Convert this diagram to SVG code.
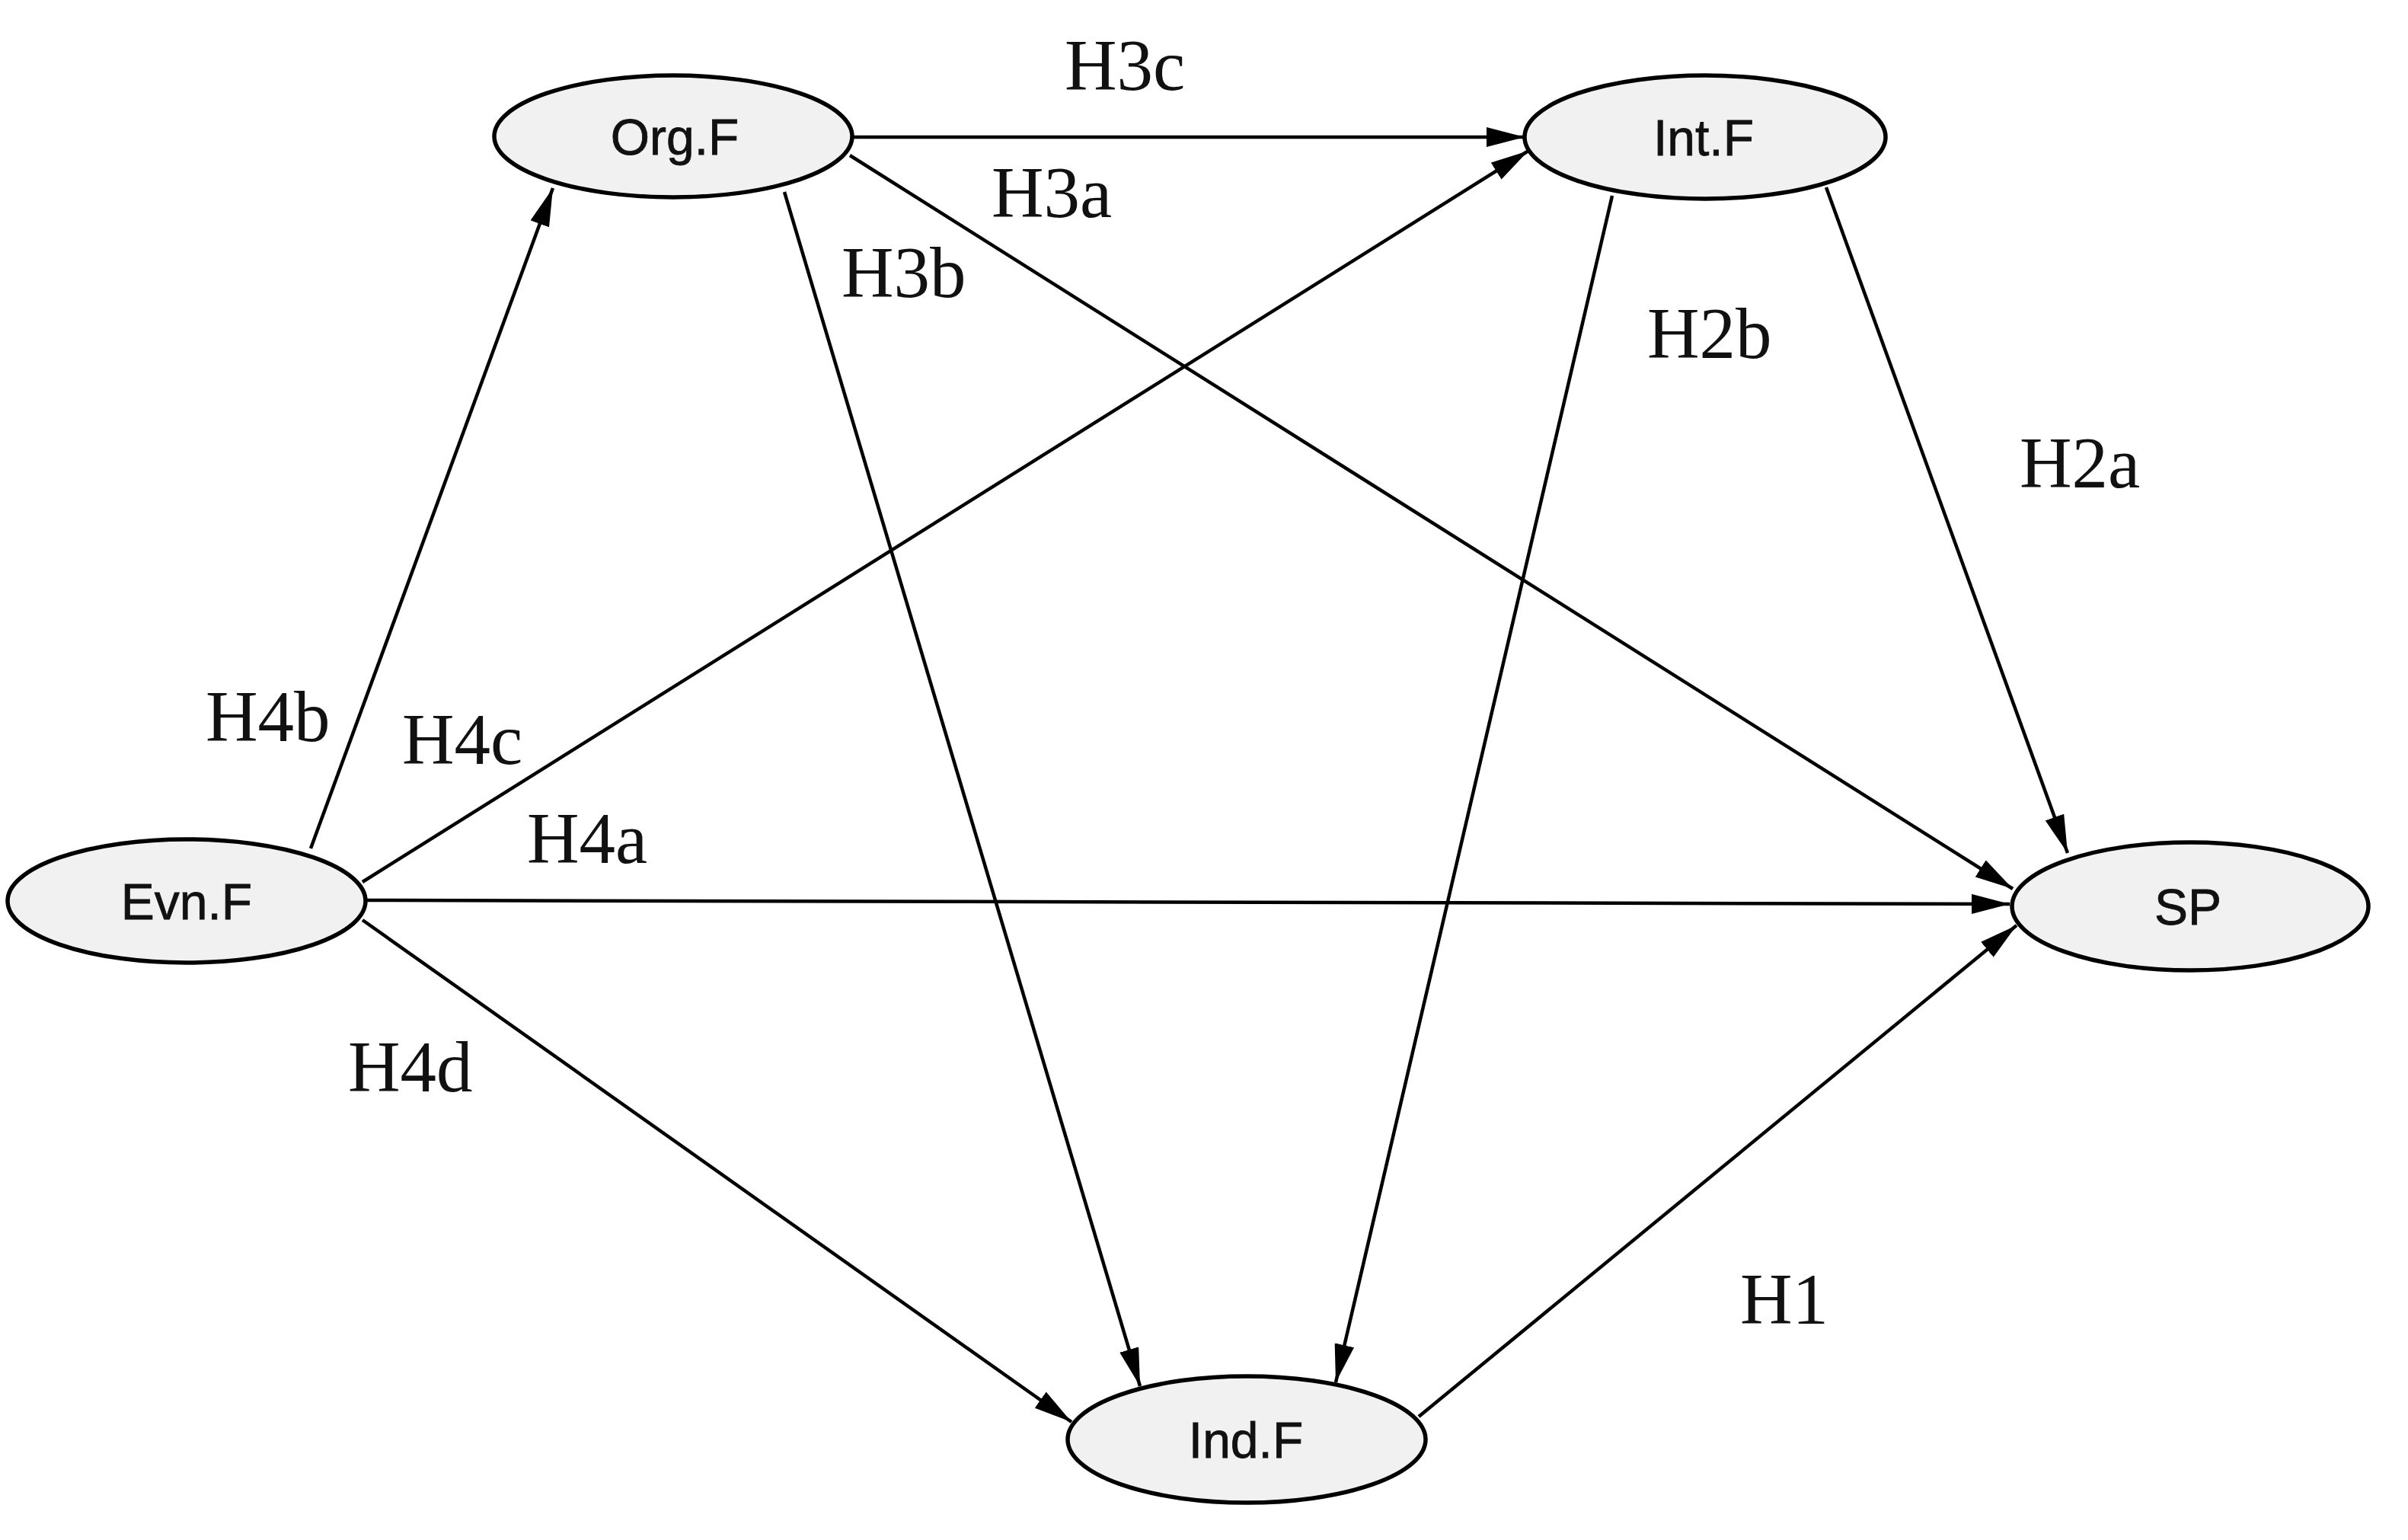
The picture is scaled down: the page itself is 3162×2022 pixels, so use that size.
<svg xmlns="http://www.w3.org/2000/svg" width="3162" height="2022" viewBox="0 0 3162 2022">
<style>
.node ellipse{fill:#f1f1f1;stroke:#000;stroke-width:5.5}
.node text{font-family:"Liberation Sans",Arial,sans-serif;font-size:66px;fill:#111;text-anchor:middle;stroke:#111;stroke-width:0.8}
.edge{stroke:#000;stroke-width:4.5;fill:none;marker-end:url(#arr)}
.lbl{font-family:"Liberation Serif","Times New Roman",serif;font-size:95px;fill:#111}
</style>
<defs>
<marker id="arr" markerUnits="userSpaceOnUse" markerWidth="52" markerHeight="26" refX="50" refY="13" orient="auto">
<path d="M0,0 L50,13 L0,26 z" fill="#000"/>
</marker>
</defs>
<rect width="3162" height="2022" fill="#fff"/>
<g id="connectors">
<line class="edge" x1="1120" y1="180" x2="2002" y2="180"/>
<line class="edge" x1="1116" y1="204" x2="2643" y2="1167"/>
<line class="edge" x1="1030" y1="252" x2="1497" y2="1820"/>
<line class="edge" x1="2398" y1="246" x2="2715" y2="1120"/>
<line class="edge" x1="2117" y1="257" x2="1754" y2="1815"/>
<line class="edge" x1="408" y1="1114" x2="726" y2="247"/>
<line class="edge" x1="476" y1="1158" x2="2007" y2="198"/>
<line class="edge" x1="480" y1="1182" x2="2639" y2="1187"/>
<line class="edge" x1="476" y1="1208" x2="1407" y2="1867"/>
<line class="edge" x1="1863" y1="1860" x2="2648" y2="1215"/>
</g>
<g id="labels">
<text class="lbl" x="1398" y="118">H3c</text>
<text class="lbl" x="1302" y="285">H3a</text>
<text class="lbl" x="1105" y="390">H3b</text>
<text class="lbl" x="2163" y="470">H2b</text>
<text class="lbl" x="2652" y="640">H2a</text>
<text class="lbl" x="270" y="973">H4b</text>
<text class="lbl" x="528" y="1003">H4c</text>
<text class="lbl" x="692" y="1133">H4a</text>
<text class="lbl" x="457" y="1433">H4d</text>
<text class="lbl" x="2285" y="1738">H1</text>
</g>
<g id="node-org" class="node"><ellipse cx="884" cy="179" rx="235" ry="80"/><text x="886" y="203">Org.F</text></g>
<g id="node-int" class="node"><ellipse cx="2239" cy="180" rx="237" ry="81"/><text x="2237" y="204">Int.F</text></g>
<g id="node-evn" class="node"><ellipse cx="245" cy="1183" rx="235" ry="81"/><text x="245" y="1207">Evn.F</text></g>
<g id="node-sp" class="node"><ellipse cx="2876" cy="1190" rx="234" ry="84"/><text x="2873" y="1214">SP</text></g>
<g id="node-ind" class="node"><ellipse cx="1637" cy="1890" rx="235" ry="83"/><text x="1636" y="1914">Ind.F</text></g>
</svg>
